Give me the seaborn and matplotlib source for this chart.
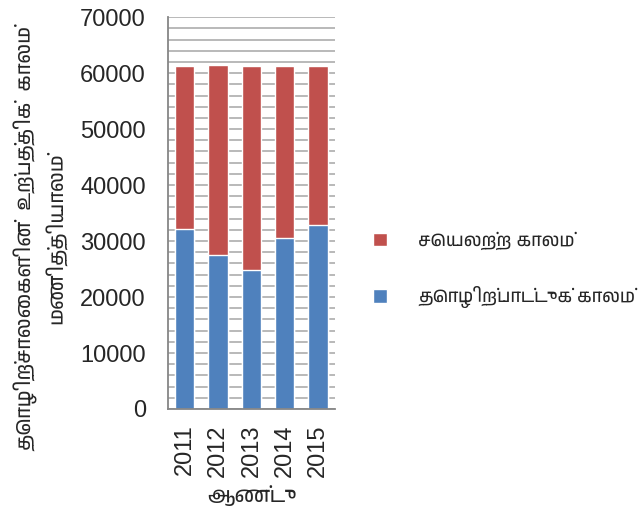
import numpy as np
import pandas as pd
import seaborn as sns
import matplotlib
matplotlib.use("Agg")
import matplotlib.pyplot as plt
from matplotlib import font_manager
from matplotlib.ft2font import FT2Font
from matplotlib.ticker import MultipleLocator

# Données
years = ["2011", "2012", "2013", "2014", "2015"]
working = [32200, 27450, 24750, 30500, 32800]
idle = [29050, 33950, 36500, 30750, 28500]

# chercher une police qui contient les glyphes tamouls
tamil_fonts = []
for f in font_manager.fontManager.ttflist:
    try:
        if FT2Font(f.fname).get_char_index(ord("த")):
            tamil_fonts.append(f.name)
    except Exception:
        pass
tamil_fonts = sorted(set(tamil_fonts))

sns.set_style("white")
plt.rcParams['font.family'] = ['Liberation Sans'] + tamil_fonts + ['DejaVu Sans']

df = pd.DataFrame({"year": years, "working": working, "idle": idle})
df["total"] = df["working"] + df["idle"]

fig = plt.figure(figsize=(6.39, 5.20), dpi=100)
ax = fig.add_axes([0.263, 0.2135, 0.261, 0.7535])

sns.barplot(data=df, x="year", y="total", color="#C0504D", width=0.58,
            saturation=1, ax=ax, label="செயலற்ற காலம்")
sns.barplot(data=df, x="year", y="working", color="#4F81BD", width=0.58,
            saturation=1, ax=ax, label="தொழிற்பாட்டுக் காலம்")

ax.set_ylim(0, 70000)
ax.set_xlim(-0.5, 4.5)
ax.yaxis.set_major_locator(MultipleLocator(10000))
ax.yaxis.set_minor_locator(MultipleLocator(2000))
ax.grid(axis="y", which="both", color="#b3b3b3", linewidth=1.3)
ax.set_axisbelow(True)
for s in ["top", "right"]:
    ax.spines[s].set_visible(False)
ax.spines["left"].set_color("#868686")
ax.spines["bottom"].set_color("#868686")
ax.spines["left"].set_linewidth(1.3)
ax.spines["bottom"].set_linewidth(1.3)
ax.tick_params(axis="y", which="major", length=8, color="#868686", width=1.3,
               labelsize=17, pad=8)
ax.tick_params(axis="y", which="minor", length=0)
ax.tick_params(axis="x", length=0, labelsize=17, pad=11)
plt.setp(ax.get_xticklabels(), rotation=90)

ax.set_xlabel("ஆண்டு", fontsize=15, labelpad=6)
ax.set_ylabel("")
fig.text(41 / 639, 1 - 238 / 520,
         "தொழிற்சாலைகளின்  உற்பத்திக்  காலம்\nமணித்தியாலம்",
         rotation=90, fontsize=14.5, ha="center", va="center",
         multialignment="center", linespacing=1.4)

ax.legend(loc="center left", bbox_to_anchor=(1.13, 0.355), frameon=False,
          fontsize=13, handlelength=0.8, handleheight=0.8, labelspacing=2.0,
          handletextpad=1.7)

fig.savefig("out.png", dpi=100)
